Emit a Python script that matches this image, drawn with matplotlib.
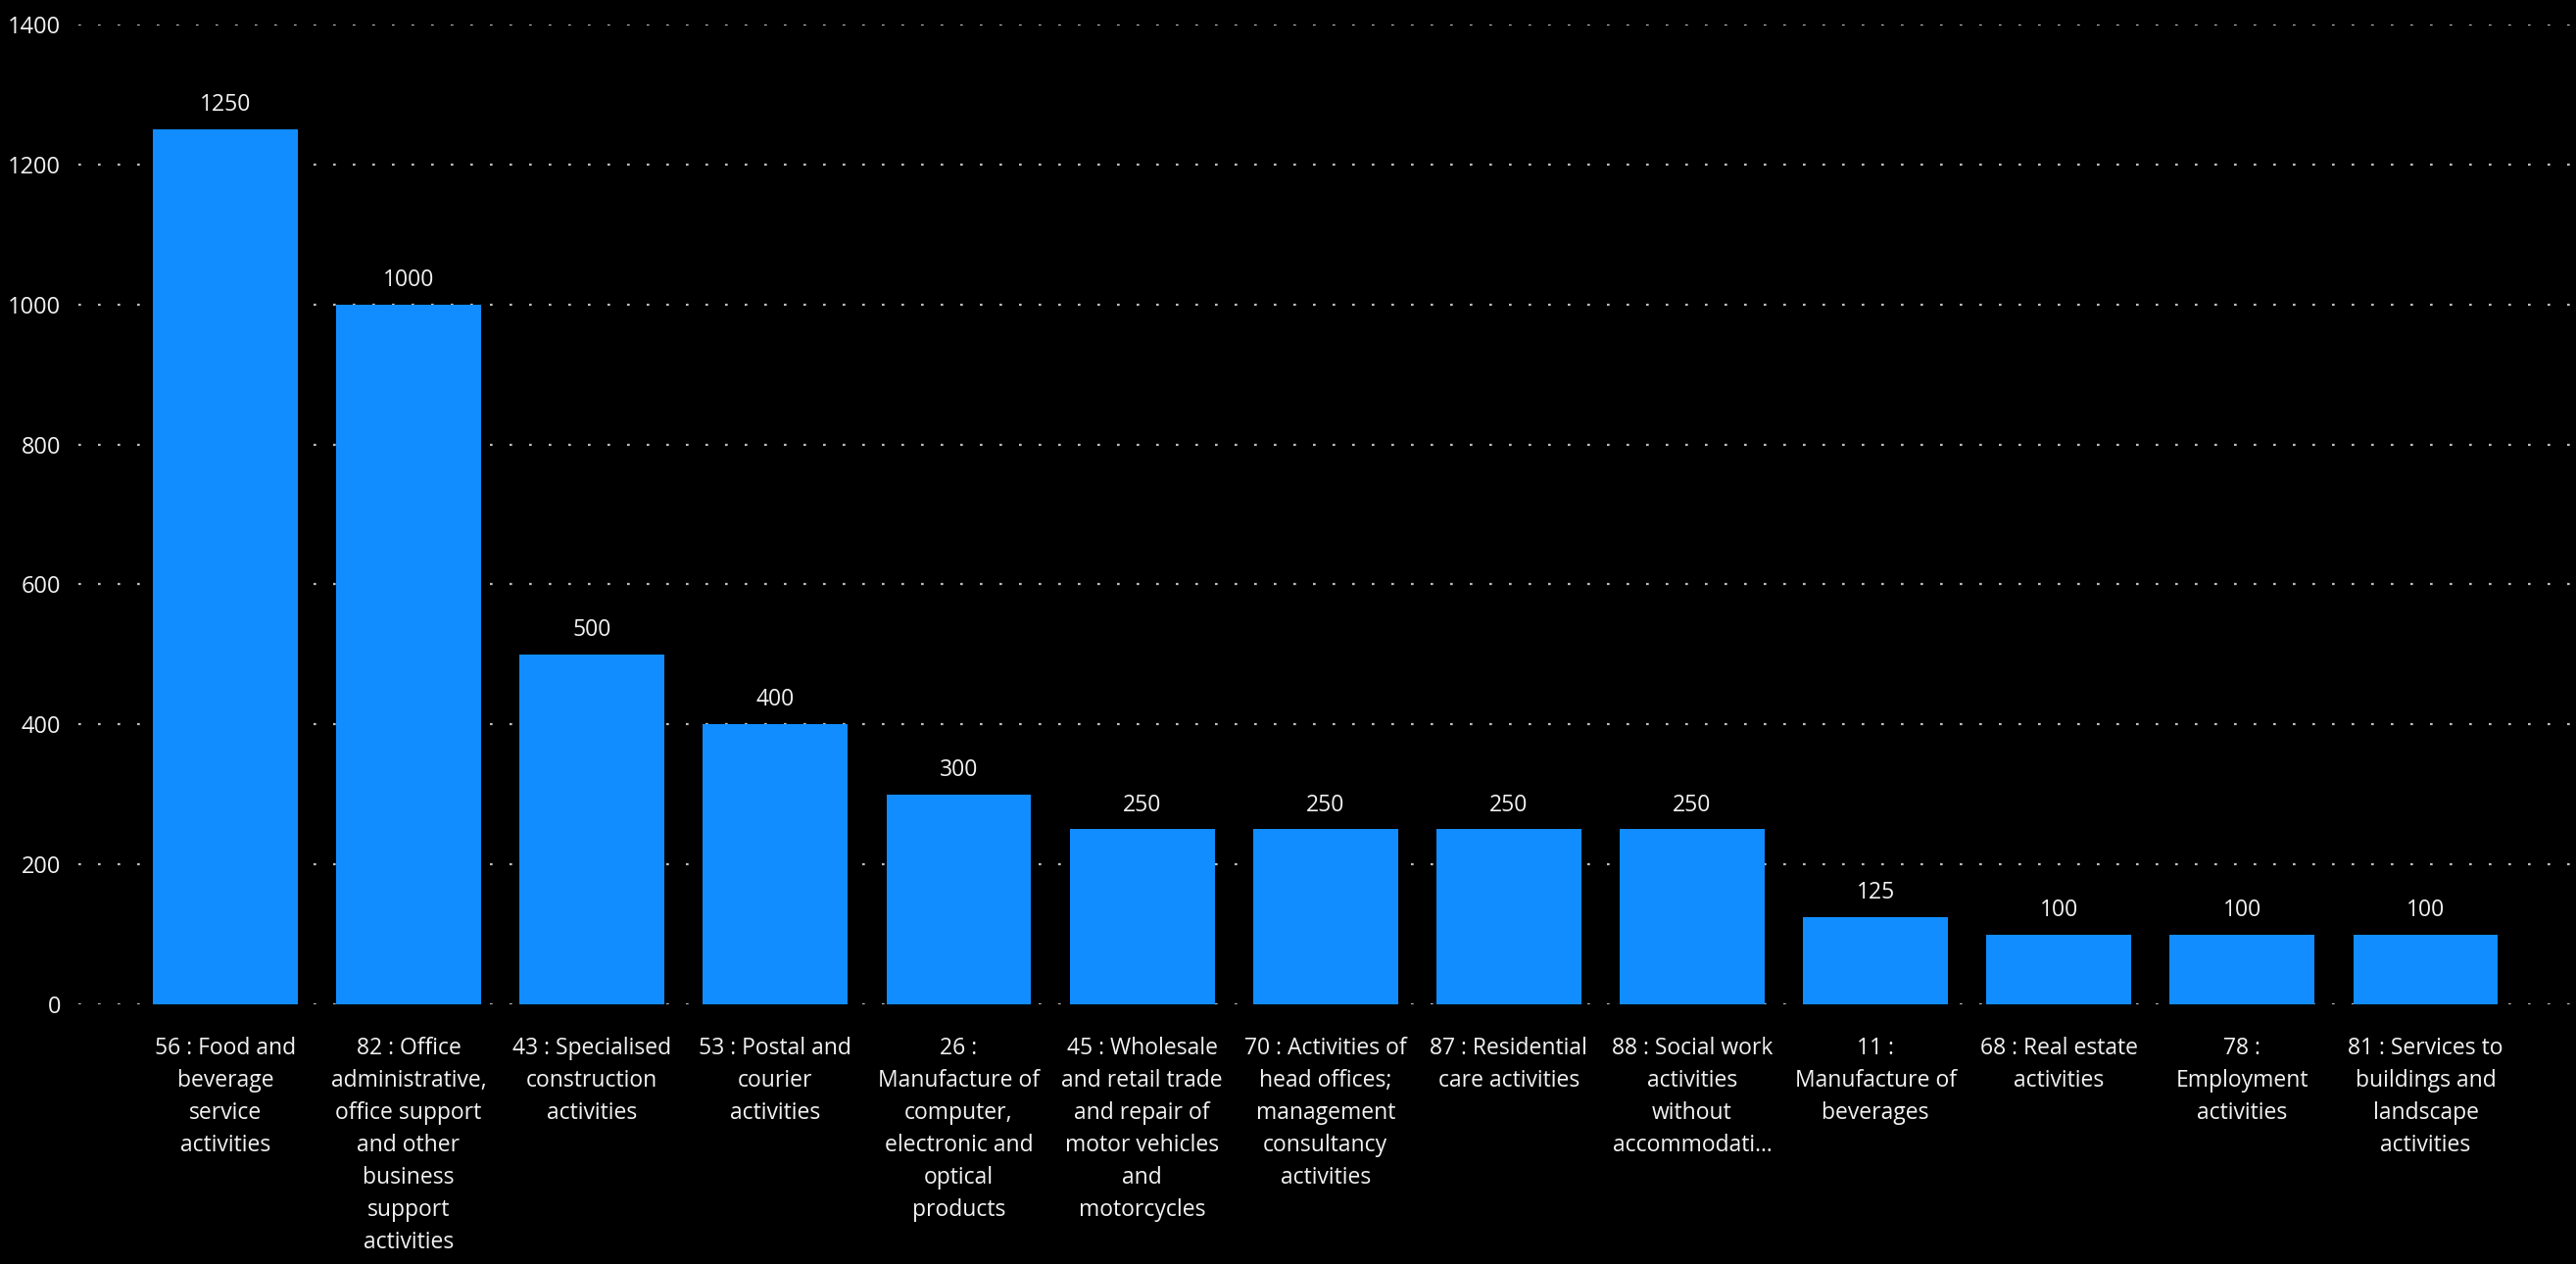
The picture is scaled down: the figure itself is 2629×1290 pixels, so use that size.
import numpy as np
import matplotlib.pyplot as plt

plt.rcParams['font.family'] = ['Open Sans', 'DejaVu Sans']

categories = [
    '56 : Food and\nbeverage\nservice\nactivities',
    '82 : Office\nadministrative,\noffice support\nand other\nbusiness\nsupport\nactivities',
    '43 : Specialised\nconstruction\nactivities',
    '53 : Postal and\ncourier\nactivities',
    '26 :\nManufacture of\ncomputer,\nelectronic and\noptical\nproducts',
    '45 : Wholesale\nand retail trade\nand repair of\nmotor vehicles\nand\nmotorcycles',
    '70 : Activities of\nhead offices;\nmanagement\nconsultancy\nactivities',
    '87 : Residential\ncare activities',
    '88 : Social work\nactivities\nwithout\naccommodati...',
    '11 :\nManufacture of\nbeverages',
    '68 : Real estate\nactivities',
    '78 :\nEmployment\nactivities',
    '81 : Services to\nbuildings and\nlandscape\nactivities',
]
values = [1250, 1000, 500, 400, 300, 250, 250, 250, 250, 125, 100, 100, 100]
yticks = [0, 200, 400, 600, 800, 1000, 1200, 1400]

bar_color = '#118DFF'
text_color = '#f2f2f2'

fig = plt.figure(figsize=(26.29, 12.9), dpi=100, facecolor='black')
ax = fig.add_axes([0.0305, 0.2054, 0.9695, 0.7752], facecolor='black')

x = np.arange(len(values))
bars = ax.bar(x, values, width=0.79, color=bar_color, zorder=2)

for xi, v in zip(x, values):
    ax.text(xi, v + 18, str(v), ha='center', va='bottom', color=text_color, fontsize=16.5)

ax.set_xlim(-0.80, 12.82)
ax.set_ylim(0, 1400)
ax.set_yticks(yticks)
ax.set_yticklabels([str(t) for t in yticks])
ax.set_xticks(x)
ax.set_xticklabels(categories, linespacing=1.5)

ax.tick_params(axis='y', length=0, pad=13, labelsize=17, labelcolor=text_color)
ax.tick_params(axis='x', length=0, pad=24, labelsize=16.5, labelcolor=text_color)

ax.yaxis.grid(True, color='#bdbdbd', linestyle=(0, (1.2, 7.8)), linewidth=1.6, zorder=1)
ax.set_axisbelow(True)
for s in ax.spines.values():
    s.set_visible(False)

fig.savefig('out.png', dpi=100, facecolor='black')
